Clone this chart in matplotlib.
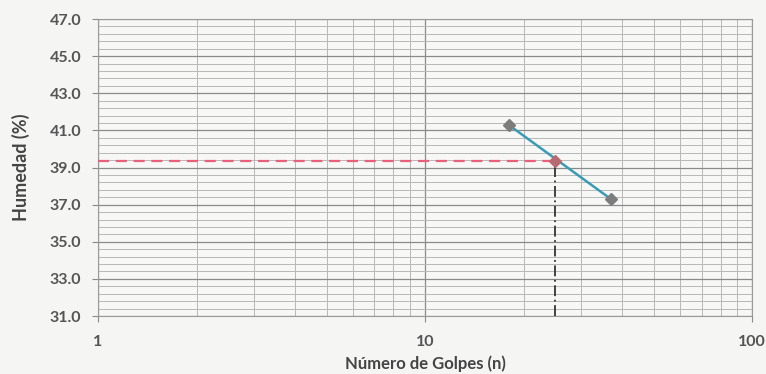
import numpy as np
import matplotlib.pyplot as plt
from matplotlib.ticker import FixedLocator, FuncFormatter

# datos del ensayo (limite liquido)
golpes = [18, 37]
humedad = [41.3, 37.3]
n_25 = 25
w_25 = 39.35

y_major = [31, 33, 35, 37, 39, 41, 43, 45, 47]
x_major = [1, 10, 100]
x_minor = [2, 3, 4, 5, 6, 7, 8, 9, 20, 30, 40, 50, 60, 70, 80, 90]

plt.rcParams['font.family'] = ['Lato', 'DejaVu Sans']

fig = plt.figure(figsize=(7.66, 3.74), dpi=100)
fig.patch.set_facecolor('#f5f5f4')
ax = fig.add_axes([0.128, 0.155, 0.854, 0.794])
ax.set_facecolor('#f7f7f6')

ax.set_xscale('log')
ax.set_xlim(1, 100)
ax.set_ylim(31, 47)

ax.xaxis.set_major_locator(FixedLocator(x_major))
ax.xaxis.set_minor_locator(FixedLocator(x_minor))
ax.xaxis.set_major_formatter(FuncFormatter(lambda v, p: f"{v:g}"))
ax.xaxis.set_minor_formatter(FuncFormatter(lambda v, p: ""))
ax.yaxis.set_major_locator(FixedLocator(y_major))
ax.yaxis.set_minor_locator(FixedLocator(np.arange(31, 47.01, 0.4)))
ax.yaxis.set_major_formatter(FuncFormatter(lambda v, p: f"{v:.1f}"))

ax.grid(which='major', color='#8a8a8a', lw=0.9)
ax.grid(which='minor', color='#b8b8b8', lw=0.7)
ax.set_axisbelow(True)

for s in ax.spines.values():
    s.set_color('#9a9a9a')
    s.set_linewidth(0.8)

ax.tick_params(axis='both', which='major', labelsize=11.5, colors='#8a8a8a', labelcolor='#555555', length=4)
ax.tick_params(axis='both', which='minor', length=0)
ax.tick_params(axis='x', pad=10)
ax.tick_params(axis='y', pad=8)
for lab in ax.get_xticklabels() + ax.get_yticklabels():
    lab.set_fontweight('bold')

# lineas de lectura a 25 golpes
ax.plot([1, n_25], [w_25, w_25], color='#e8607a', lw=1.6, ls=(0, (5, 3)), zorder=3)
ax.plot([n_25, n_25], [31, w_25], color='#333333', lw=1.3, ls=(0, (6, 2, 1, 2)), zorder=3)

ax.plot(golpes, humedad, color='#3a9bb5', lw=1.8, marker='D', ms=6.5,
        mfc='#7d7d7d', mec='#7d7d7d', zorder=4)
ax.plot([n_25], [w_25], marker='D', ms=6.5, color='#b86a72', ls='none', zorder=5)

ax.set_xlabel('Número de Golpes (n)', fontsize=12, fontweight='bold', color='#444444', labelpad=4)
ax.set_ylabel('Humedad (%)', fontsize=13, fontweight='bold', color='#444444', labelpad=14)

fig.savefig('out.png', dpi=100, facecolor=fig.get_facecolor())
